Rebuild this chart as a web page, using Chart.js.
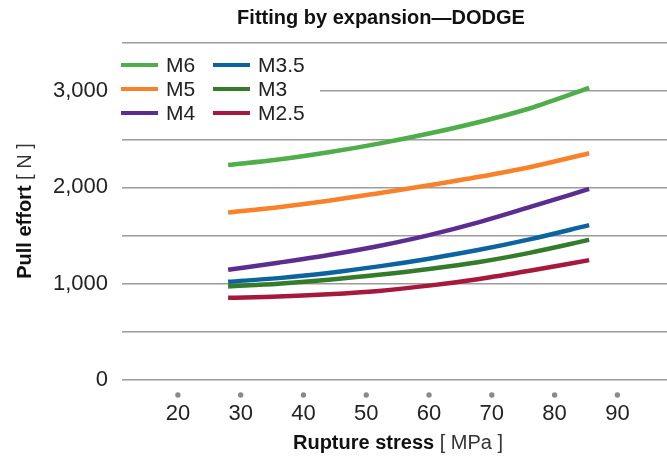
<!DOCTYPE html>
<html>
<head>
<meta charset="utf-8">
<script src="https://cdn.jsdelivr.net/npm/chart.js@4/dist/chart.umd.min.js"></script>
<style>
  html, body { margin: 0; padding: 0; background: #fff; }
  #wrap { width: 667px; height: 466px; position: relative; }
</style>
</head>
<body>
<div id="wrap"><canvas id="chart" width="667" height="466"></canvas></div>
<script>
// Rupture stress [MPa] at which each curve is sampled
const stressValues = [28, 36, 44, 52, 60, 68, 76, 85.5];

// Pull effort [N] per thread size
const seriesNames = ['M6', 'M5', 'M4', 'M3.5', 'M3', 'M2.5'];
const m6Values   = [2233, 2290, 2365, 2455, 2560, 2680, 2820, 3033];
const m5Values   = [1739, 1795, 1862, 1940, 2022, 2110, 2210, 2355];
const m4Values   = [1144, 1218, 1298, 1392, 1505, 1640, 1795, 1984];
const m35Values  = [1020, 1058, 1112, 1180, 1260, 1352, 1460, 1608];
const m3Values   = [971, 1000, 1040, 1092, 1152, 1225, 1320, 1455];
const m25Values  = [854, 866, 890, 925, 980, 1050, 1135, 1245];

// Axis ticks
const xTickValues = [20, 30, 40, 50, 60, 70, 80, 90];
const yLabelValues = [0, 1000, 2000, 3000];

const seriesValues = [m6Values, m5Values, m4Values, m35Values, m3Values, m25Values];
const seriesColors = ['#4fad4a', '#f9812a', '#5c2d91', '#0b64a0', '#347c2c', '#a6193c'];

const FONT = '"Liberation Sans", Arial, Helvetica, sans-serif';

const datasets = seriesNames.map((name, i) => ({
  label: name,
  data: stressValues.map((x, j) => ({ x: x, y: seriesValues[i][j] })),
  borderColor: seriesColors[i],
  backgroundColor: seriesColors[i],
  borderWidth: 4.5,
  borderCapStyle: 'butt',
  pointRadius: 0,
  cubicInterpolationMode: 'monotone',
  fill: false
}));

// Title, axis titles, tick dots and the two-column legend
const decorations = {
  id: 'decorations',
  afterDraw(chart) {
    const ctx = chart.ctx;
    const area = chart.chartArea;
    const xs = chart.scales.x;
    ctx.save();

    // Title
    ctx.fillStyle = '#111';
    ctx.font = 'bold 20px ' + FONT;
    ctx.textAlign = 'center';
    ctx.textBaseline = 'middle';
    ctx.fillText('Fitting by expansion\u2014DODGE', 381, 18);

    // Grey dots under each x tick
    ctx.fillStyle = '#8a8a8a';
    xs.ticks.forEach(t => {
      const px = xs.getPixelForValue(t.value);
      ctx.beginPath();
      ctx.arc(px, area.bottom + 15, 2.7, 0, Math.PI * 2);
      ctx.fill();
    });

    // Mixed-weight axis titles
    function mixedText(boldPart, lightPart, cx, cy) {
      ctx.font = 'bold 20px ' + FONT;
      const w1 = ctx.measureText(boldPart).width;
      ctx.font = '20px ' + FONT;
      const w2 = ctx.measureText(lightPart).width;
      const start = cx - (w1 + w2) / 2;
      ctx.textAlign = 'left';
      ctx.textBaseline = 'middle';
      ctx.fillStyle = '#111';
      ctx.font = 'bold 20px ' + FONT;
      ctx.fillText(boldPart, start, cy);
      ctx.fillStyle = '#333';
      ctx.font = '20px ' + FONT;
      ctx.fillText(lightPart, start + w1, cy);
    }
    mixedText('Rupture stress ', '[ MPa ]', 398, 443);
    ctx.save();
    ctx.translate(25, 211);
    ctx.rotate(-Math.PI / 2);
    mixedText('Pull effort ', '[ N ]', 0, 0);
    ctx.restore();

    // Legend: three rows, filled column by column
    ctx.fillStyle = '#fff';
    ctx.fillRect(113, 52, 207, 73);
    const colX = [121, 213];
    const rowY = [65, 89, 113];
    ctx.font = '21px ' + FONT;
    ctx.textAlign = 'left';
    ctx.textBaseline = 'middle';
    chart.data.datasets.forEach((ds, i) => {
      const col = Math.floor(i / 3);
      const row = i % 3;
      const x = colX[col];
      const y = rowY[row];
      ctx.strokeStyle = ds.borderColor;
      ctx.lineWidth = 4;
      ctx.lineCap = 'butt';
      ctx.beginPath();
      ctx.moveTo(x, y);
      ctx.lineTo(x + 37, y);
      ctx.stroke();
      ctx.fillStyle = '#222';
      ctx.fillText(ds.label, x + 45, y + 1);
    });

    ctx.restore();
  }
};

new Chart(document.getElementById('chart'), {
  type: 'line',
  data: { datasets: datasets },
  options: {
    responsive: false,
    animation: false,
    devicePixelRatio: 1,
    layout: { padding: { top: 43, right: 0, bottom: 0, left: 0 } },
    plugins: {
      legend: { display: false },
      title: { display: false },
      tooltip: { enabled: false }
    },
    scales: {
      x: {
        type: 'linear',
        min: 11.1,
        max: 97.9,
        afterBuildTicks: s => { s.ticks = xTickValues.map(v => ({ value: v })); },
        afterFit: s => { s.height = 86; },
        grid: { display: false, drawTicks: false },
        border: { display: false },
        ticks: {
          padding: 21,
          maxRotation: 0,
          autoSkip: false,
          color: '#222',
          font: { family: FONT, size: 22 }
        }
      },
      y: {
        min: 0,
        max: 3500,
        afterFit: s => { s.width = 122; },
        grid: { color: '#9c9c9c', lineWidth: 1.5, drawTicks: false },
        border: { display: false },
        ticks: {
          stepSize: 500,
          padding: 14,
          color: '#222',
          font: { family: FONT, size: 22 },
          callback: v => yLabelValues.includes(v) ? v.toLocaleString('en-US') : ''
        }
      }
    }
  },
  plugins: [decorations]
});
</script>
</body>
</html>
